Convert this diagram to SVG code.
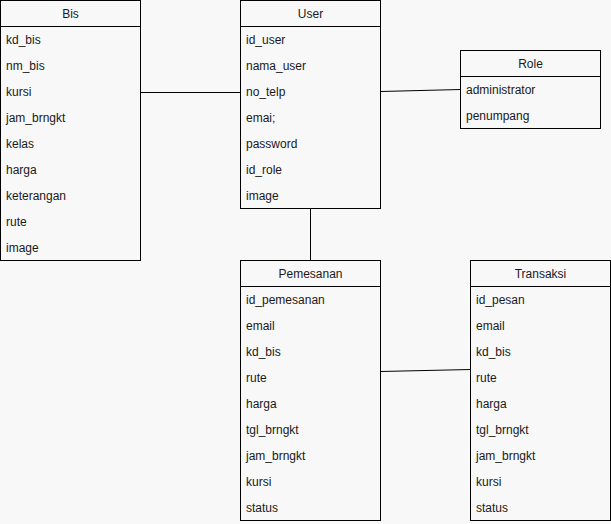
<svg xmlns="http://www.w3.org/2000/svg" width="611" height="524" viewBox="0 0 611 524">
<style>
.box{fill:#f8f8f8;stroke:#000;stroke-width:1}
.sep{stroke:#000;stroke-width:1}
.t{font-family:"Liberation Sans",Arial,sans-serif;font-size:12px;fill:#1a1a1a}
.h{text-anchor:middle}
.con{stroke:#000;stroke-width:1;fill:none}
</style>
<rect width="611" height="524" fill="#f8f8f8"/>
<g id="connectors">
<line class="con" x1="140.5" y1="92.5" x2="240.5" y2="92.5"/>
<line class="con" x1="380.5" y1="91.5" x2="460.5" y2="89.5"/>
<line class="con" x1="310.5" y1="208.5" x2="310.5" y2="260.5"/>
<line class="con" x1="380.5" y1="371.5" x2="470.5" y2="369.5"/>
</g>
<g id="Bis">
<rect class="box" x="0.5" y="0.5" width="140" height="260"/>
<line class="sep" x1="0.5" y1="26.5" x2="140.5" y2="26.5"/>
<text class="t h" x="70.5" y="17.5">Bis</text>
<text class="t" x="6" y="44">kd_bis</text>
<text class="t" x="6" y="70">nm_bis</text>
<text class="t" x="6" y="96">kursi</text>
<text class="t" x="6" y="122">jam_brngkt</text>
<text class="t" x="6" y="148">kelas</text>
<text class="t" x="6" y="174">harga</text>
<text class="t" x="6" y="200">keterangan</text>
<text class="t" x="6" y="226">rute</text>
<text class="t" x="6" y="252">image</text>
</g>
<g id="User">
<rect class="box" x="240.5" y="0.5" width="140" height="208"/>
<line class="sep" x1="240.5" y1="26.5" x2="380.5" y2="26.5"/>
<text class="t h" x="310.5" y="17.5">User</text>
<text class="t" x="246" y="44">id_user</text>
<text class="t" x="246" y="70">nama_user</text>
<text class="t" x="246" y="96">no_telp</text>
<text class="t" x="246" y="122">emai;</text>
<text class="t" x="246" y="148">password</text>
<text class="t" x="246" y="174">id_role</text>
<text class="t" x="246" y="200">image</text>
</g>
<g id="Role">
<rect class="box" x="460.5" y="50.5" width="140" height="78"/>
<line class="sep" x1="460.5" y1="76.5" x2="600.5" y2="76.5"/>
<text class="t h" x="530.5" y="67.5">Role</text>
<text class="t" x="466" y="94">administrator</text>
<text class="t" x="466" y="120">penumpang</text>
</g>
<g id="Pemesanan">
<rect class="box" x="240.5" y="260.5" width="140" height="260"/>
<line class="sep" x1="240.5" y1="286.5" x2="380.5" y2="286.5"/>
<text class="t h" x="310.5" y="277.5">Pemesanan</text>
<text class="t" x="246" y="304">id_pemesanan</text>
<text class="t" x="246" y="330">email</text>
<text class="t" x="246" y="356">kd_bis</text>
<text class="t" x="246" y="382">rute</text>
<text class="t" x="246" y="408">harga</text>
<text class="t" x="246" y="434">tgl_brngkt</text>
<text class="t" x="246" y="460">jam_brngkt</text>
<text class="t" x="246" y="486">kursi</text>
<text class="t" x="246" y="512">status</text>
</g>
<g id="Transaksi">
<rect class="box" x="470.5" y="260.5" width="140" height="260"/>
<line class="sep" x1="470.5" y1="286.5" x2="610.5" y2="286.5"/>
<text class="t h" x="540.5" y="277.5">Transaksi</text>
<text class="t" x="476" y="304">id_pesan</text>
<text class="t" x="476" y="330">email</text>
<text class="t" x="476" y="356">kd_bis</text>
<text class="t" x="476" y="382">rute</text>
<text class="t" x="476" y="408">harga</text>
<text class="t" x="476" y="434">tgl_brngkt</text>
<text class="t" x="476" y="460">jam_brngkt</text>
<text class="t" x="476" y="486">kursi</text>
<text class="t" x="476" y="512">status</text>
</g>
</svg>
